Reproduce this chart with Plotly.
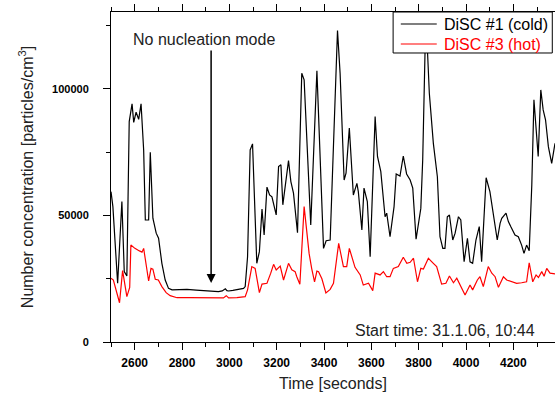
import plotly.graph_objects as go

# ---- data ----
t_cold = [2500, 2508, 2528, 2546, 2556, 2567, 2577, 2589, 2596, 2606, 2617, 2627, 2638, 2645, 2659,
          2666, 2677, 2691, 2701, 2715, 2729, 2743, 2758, 2790, 2821, 2860, 2891, 2930, 2954, 2970,
          2983, 2990, 2997, 3015, 3032, 3050, 3060, 3067, 3077, 3088, 3098, 3116, 3127, 3138, 3147,
          3159, 3170, 3180, 3198, 3208, 3218, 3226, 3250, 3260, 3271, 3288, 3306, 3316, 3344, 3370,
          3398, 3409, 3426, 3457, 3468, 3485, 3493, 3507, 3524, 3539, 3545, 3560, 3569, 3583, 3595,
          3616, 3626, 3640, 3658, 3665, 3679, 3696, 3705, 3721, 3735, 3749, 3764, 3775, 3789, 3809,
          3817, 3827, 3833, 3845, 3862, 3879, 3890, 3902, 3911, 3921, 3930, 3944, 3954, 3968, 3978,
          3992, 4006, 4017, 4028, 4042, 4056, 4066, 4085, 4101, 4118, 4132, 4144, 4151, 4169, 4179,
          4189, 4207, 4221, 4235, 4245, 4256, 4267, 4278, 4287, 4296, 4305, 4316, 4326, 4336, 4348,
          4362, 4376]
v_cold = [59400, 53500, 23200, 55500, 27800, 26100, 87100, 94100, 86800, 90800, 88000, 94100, 75900, 48200, 48200,
          75000, 48900, 43000, 41000, 31100, 24500, 21200, 20600, 20800, 20800, 20500, 20300, 20100, 19900, 20200,
          21000, 20300, 20150, 20400, 20600, 21000, 21200, 21900, 33700, 75900, 78300, 31100, 35700, 52500, 42300,
          61200, 58100, 57400, 50200, 69300, 70000, 54200, 71700, 63400, 58800, 43200, 106200, 103600, 46200, 107200,
          37000, 40000, 40300, 123100, 106200, 64000, 66700, 84500, 58100, 62700, 59400, 44300, 60800, 55500, 33700,
          89100, 73300, 67300, 49500, 50900, 41600, 53500, 66400, 65600, 73500, 66400, 64000, 60800, 40600, 52800,
          71900, 115400, 124000, 98300, 78500, 65300, 41600, 37000, 37000, 49500, 50200, 40300, 43000, 49500, 48200,
          31700, 41000, 31700, 31100, 40300, 45600, 31700, 64900, 59400, 48900, 40300, 46900, 48900, 50900, 47600,
          45600, 42300, 41600, 38300, 35000, 38300, 36100, 62100, 95700, 82500, 73300, 99600, 91700, 87800, 77200,
          70600, 78500]

t_hot = [2500, 2510, 2536, 2549, 2567, 2579, 2584, 2601, 2620, 2631, 2638, 2659, 2669, 2677, 2687,
         2700, 2715, 2733, 2750, 2779, 2830, 2891, 2975, 2987, 2997, 3032, 3067, 3077, 3095, 3109,
         3127, 3138, 3159, 3175, 3187, 3198, 3215, 3229, 3250, 3264, 3278, 3285, 3298, 3316, 3337,
         3348, 3360, 3370, 3377, 3391, 3408, 3426, 3440, 3462, 3482, 3496, 3507, 3531, 3553, 3566,
         3588, 3606, 3616, 3637, 3651, 3665, 3679, 3693, 3714, 3735, 3750, 3764, 3778, 3795, 3809,
         3820, 3841, 3862, 3876, 3897, 3915, 3930, 3947, 3961, 3978, 3996, 4017, 4028, 4048, 4059,
         4073, 4094, 4109, 4123, 4137, 4158, 4172, 4193, 4214, 4235, 4256, 4267, 4282, 4296, 4306,
         4320, 4330, 4341, 4355, 4376]
v_hot = [25200, 24500, 15500, 28200, 17900, 21600, 38300, 37000, 36000, 35500, 37000, 24100, 29100, 28800, 24800,
         24500, 21900, 19500, 18300, 17500, 17500, 17400, 17400, 18300, 17400, 17500, 17900, 20600, 29800, 29100,
         19500, 22900, 23200, 27200, 30700, 28500, 30000, 24500, 31100, 28500, 27800, 25800, 22800, 53500, 35000,
         29000, 23800, 28000, 27800, 25000, 19400, 20800, 23200, 39000, 29800, 29800, 37000, 29500, 26500, 22500,
         23200, 20300, 27200, 26500, 27800, 25800, 25800, 29100, 29800, 33500, 31100, 31500, 33100, 23800, 29100,
         28800, 33100, 31100, 29800, 22900, 23200, 26100, 23400, 25200, 21900, 18600, 22500, 20600, 24500, 25800,
         21900, 29800, 27200, 25800, 21600, 25800, 24500, 23800, 23200, 23400, 23800, 31300, 23800, 26500, 25500,
         27800, 26000, 29100, 27200, 26900]

series_names = ["DiSC #1 (cold)", "DiSC #3 (hot)"]
series_colors = ["black", "#ff0000"]

x_range = [2500, 4376]
y_range = [0, 130400]

FONT = "Liberation Sans, Arial, sans-serif"

fig = go.Figure()
fig.add_trace(go.Scatter(x=t_cold, y=v_cold, mode="lines", name=series_names[0],
                         line=dict(color=series_colors[0], width=1.2), showlegend=False))
fig.add_trace(go.Scatter(x=t_hot, y=v_hot, mode="lines", name=series_names[1],
                         line=dict(color=series_colors[1], width=1.2), showlegend=False))

# legend box drawn in paper coordinates (Origin-style legend)
shapes = [
    dict(type="rect", xref="paper", yref="paper", x0=0.6354, x1=0.9939, y0=0.8758, y1=1.0,
         line=dict(color="black", width=1), fillcolor="white", layer="above"),
]
annotations = []
for i, (nm, col) in enumerate(zip(series_names, series_colors)):
    yy = 0.9636 - i * 0.0606
    shapes.append(dict(type="line", xref="paper", yref="paper", x0=0.6527, x1=0.7337, y0=yy, y1=yy,
                       line=dict(color=col, width=1.2), layer="above"))
    annotations.append(dict(x=0.745, y=yy, xref="paper", yref="paper", xanchor="left",
                            yanchor="middle", text=nm, showarrow=False,
                            font=dict(family=FONT, size=16, color=col)))

annotations += [
    dict(x=2895, y=119400, xref="x", yref="y", text="No nucleation mode", showarrow=False,
         font=dict(family=FONT, size=16, color="#222")),
    dict(x=2923, y=23300, ax=2923, ay=115800, xref="x", yref="y", axref="x", ayref="y",
         text="", showarrow=True, arrowhead=2, arrowsize=1.2, arrowwidth=1.5,
         arrowcolor="black"),
    dict(x=0.9588, y=4700, xref="paper", yref="y", xanchor="right", yanchor="middle",
         text="Start time: 31.1.06, 10:44", showarrow=False,
         font=dict(family=FONT, size=16, color="#222")),
]

fig.update_layout(
    width=555, height=394,
    margin=dict(l=111, r=0, t=12, b=52, pad=0),
    paper_bgcolor="white", plot_bgcolor="white",
    font=dict(family=FONT, color="black"),
    showlegend=False,
    xaxis=dict(range=x_range, dtick=200, tick0=0, ticks="outside", ticklen=7, tickwidth=1,
               tickcolor="black", showline=True, linecolor="black", linewidth=1, mirror="ticks",
               showgrid=False, zeroline=False,
               minor=dict(ticks="outside", dtick=100, tick0=0, ticklen=4, tickcolor="black"),
               tickfont=dict(family=FONT, size=12, weight="bold", color="black"),
               ticklabelstandoff=3,
               title=dict(text="Time [seconds]", font=dict(family=FONT, size=16, color="#222"),
                          standoff=8)),
    yaxis=dict(range=y_range, dtick=50000, tick0=0, tickformat="d", ticks="outside", ticklen=7,
               tickwidth=1, tickcolor="black", showline=True, linecolor="black", linewidth=1,
               mirror=False, showgrid=False, zeroline=False,
               minor=dict(ticks="outside", dtick=25000, tick0=0, ticklen=4, tickcolor="black"),
               tickfont=dict(family=FONT, size=11, weight="bold", color="black"),
               ticklabelstandoff=12,
               title=dict(text="Number concentration [particles/cm<sup>3</sup>]",
                          font=dict(family=FONT, size=16, color="#222"), standoff=14)),
    shapes=shapes,
    annotations=annotations,
)

fig.write_html("out.html")
